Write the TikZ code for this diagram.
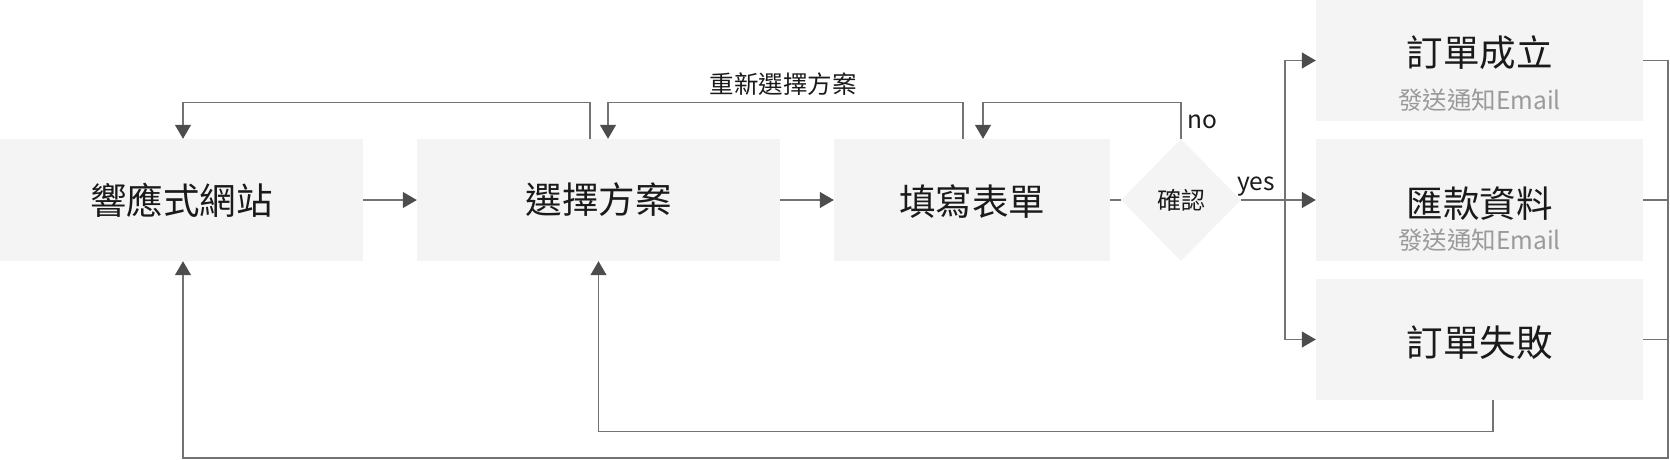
\documentclass[tikz,border=0pt]{standalone}
\usepackage{fontspec}
\setmainfont{Noto Sans CJK TC}
\usetikzlibrary{arrows.meta,shapes.geometric}
\definecolor{boxfill}{HTML}{F4F4F4}
\definecolor{linec}{HTML}{737373}
\definecolor{tipc}{HTML}{4D4D4D}
\definecolor{subc}{HTML}{9A9A9A}
\definecolor{txt}{HTML}{1A1A1A}
\begin{document}
\begin{tikzpicture}[x=1pt,y=-1pt,
  box/.style={rectangle, fill=boxfill, inner sep=0pt, text=txt, font=\fontsize{36.5}{40}\selectfont},
  title/.style={inner sep=0pt, text=txt, font=\fontsize{36.5}{40}\selectfont},
  subt/.style={inner sep=0pt, text=subc, font=\fontsize{24.5}{28}\selectfont},
  lbl/.style={inner sep=0pt, text=txt, font=\fontsize{24.5}{28}\selectfont},
  conn/.style={draw=linec, line width=1.2pt},
  arr/.style={conn, -{Triangle[length=14pt,width=16pt,color=tipc]}}]
\useasboundingbox (0,0) rectangle (1670,460);

% main row
\node[box, minimum width=363pt, minimum height=122pt] (web) at (181.5,200) {響應式網站};
\node[box, minimum width=363pt, minimum height=122pt] (plan) at (598.5,200) {選擇方案};
\node[box, minimum width=276pt, minimum height=122pt] (form) at (972,200) {};
\node[title] (formT) at (972,202) {填寫表單};
\node[diamond, fill=boxfill, inner sep=0pt, aspect=1, minimum width=120pt, minimum height=122pt,
      text=txt, font=\fontsize{24}{28}\selectfont] (chk) at (1181,200) {確認};

% result boxes
\node[box, minimum width=327pt, minimum height=121pt] (ok) at (1479.5,60.5) {};
\node[title] (okT) at (1479.5,53) {訂單成立};
\node[subt] (okS) at (1479.5,100) {發送通知Email};
\node[box, minimum width=327pt, minimum height=122pt] (pay) at (1479.5,200) {};
\node[title] (payT) at (1479.5,204) {匯款資料};
\node[subt] (payS) at (1479.5,240) {發送通知Email};
\node[box, minimum width=327pt, minimum height=121pt] (fail) at (1479.5,339.5) {};
\node[title] (failT) at (1479.5,343) {訂單失敗};

% forward flow
\draw[arr] (web.east) -- (plan.west);
\draw[arr] (plan.east) -- (form.west);
\draw[conn] (form.east) -- (chk.west);

% loops on top
\draw[arr] (chk.north) -- ++(0,-36) -| ([xshift=11pt]form.north);
\draw[arr] ([xshift=-9pt]form.north) -- ++(0,-36) -| ([xshift=9.5pt]plan.north);
\draw[arr] ([xshift=-8.5pt]plan.north) -- ++(0,-36) -| ([xshift=1.5pt]web.north);
\node[lbl] (relbl) at (783,84) {重新選擇方案};
\node[lbl] (nolbl) at (1202,122) {no};
\node[lbl] (yeslbl) at (1256,187) {yes};

% branch to results
\coordinate (tr) at (1285,200);
\draw[conn] (chk.east) -- (tr);
\draw[arr] (tr) -- (pay.west);
\draw[arr] (tr) |- (ok.west);
\draw[arr] (tr) |- (fail.west);

% return paths
\coordinate (rc) at (1668,458);
\draw[arr] (ok.east) -| (rc) -| ([xshift=1.5pt]web.south);
\draw[conn] (pay.east) -- (pay.east -| rc);
\draw[conn] (fail.east) -- (fail.east -| rc);
\draw[arr] ([xshift=13.5pt]fail.south) -- ++(0,31) -| (plan.south);
\end{tikzpicture}
\end{document}
